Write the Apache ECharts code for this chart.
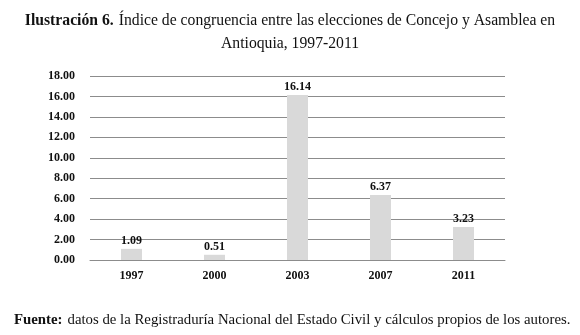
<!DOCTYPE html>
<html>
<head>
<meta charset="utf-8">
<script src="https://cdn.jsdelivr.net/npm/echarts@6/dist/echarts.min.js"></script>
<style>
  html, body { margin: 0; padding: 0; background: #fff; }
  #chart { width: 580px; height: 335px; }
</style>
</head>
<body>
<div id="chart"></div>
<script>
var years = ['1997', '2000', '2003', '2007', '2011']
var indice = [1.09, 0.51, 16.14, 6.37, 3.23]
var yTicks = [0, 18, 2]

var serif = '"Liberation Serif", "DejaVu Serif", serif'
var myChart = echarts.init(document.getElementById('chart'))

var option = {
  backgroundColor: '#fff',
  animation: false,
  title: [
    {
      left: 'center',
      top: 7,
      text: '{b|Ilustración 6.} {n|Índice de congruencia entre las elecciones de Concejo y Asamblea en}',
      textStyle: {
        fontWeight: 'normal',
        rich: {
          b: { fontFamily: serif, fontSize: 15.7, fontWeight: 'bold', color: '#111' },
          n: { fontFamily: serif, fontSize: 15.7, fontWeight: 'normal', color: '#111' }
        }
      }
    },
    {
      left: 'center',
      top: 31,
      text: 'Antioquia, 1997-2011',
      textStyle: { fontFamily: serif, fontSize: 15.7, fontWeight: 'normal', color: '#111' }
    },
    {
      left: 9,
      top: 306,
      text: '{b|Fuente:} {n|datos de la Registraduría Nacional del Estado Civil y cálculos propios de los autores.}',
      textStyle: {
        fontWeight: 'normal',
        rich: {
          b: { fontFamily: serif, fontSize: 14.8, fontWeight: 'bold', color: '#111' },
          n: { fontFamily: serif, fontSize: 14.8, fontWeight: 'normal', color: '#111' }
        }
      }
    }
  ],
  grid: {
    left: 90,
    right: 75,
    top: 76,
    bottom: 75,
    containLabel: false
  },
  xAxis: {
    type: 'category',
    data: years,
    axisTick: { show: false },
    axisLine: { lineStyle: { color: '#8c8c8c', width: 1 } },
    axisLabel: {
      margin: 10,
      fontFamily: serif,
      fontSize: 12,
      fontWeight: 'bold',
      color: '#111'
    }
  },
  yAxis: {
    type: 'value',
    min: yTicks[0],
    max: yTicks[1],
    interval: yTicks[2],
    axisLine: { show: false },
    axisTick: { show: false },
    splitLine: { lineStyle: { color: '#8c8c8c', width: 1 } },
    axisLabel: {
      margin: 15,
      fontFamily: serif,
      fontSize: 12,
      fontWeight: 'bold',
      color: '#111',
      formatter: function (v) { return v.toFixed(2) }
    }
  },
  series: [
    {
      name: 'Índice',
      type: 'bar',
      barWidth: 21,
      data: indice,
      itemStyle: { color: '#d9d9d9' },
      label: {
        show: true,
        position: 'top',
        distance: 2,
        fontFamily: serif,
        fontSize: 12,
        fontWeight: 'bold',
        color: '#111',
        formatter: function (p) { return p.value.toFixed(2) }
      }
    }
  ]
}

myChart.setOption(option)
</script>
</body>
</html>
